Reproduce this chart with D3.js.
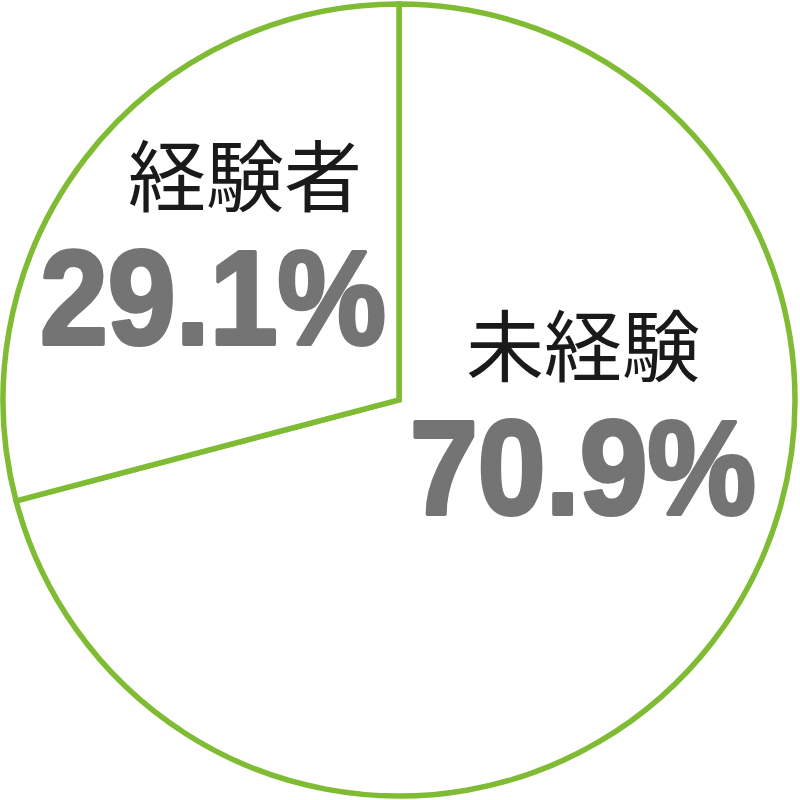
<!DOCTYPE html>
<html>
<head>
<meta charset="utf-8">
<script src="https://cdn.jsdelivr.net/npm/d3@7"></script>
<style>
  html, body { margin: 0; padding: 0; background: #fff; }
  svg { display: block; }
  .name { font-family: "Noto Sans CJK JP", sans-serif; font-size: 78px; fill: #1a1a1a; text-anchor: middle; }
  .pct { font-family: "Liberation Sans Narrow", "Liberation Sans", sans-serif; font-weight: bold; font-size: 134px;
         fill: #747474; stroke: #747474; stroke-width: 4; stroke-linejoin: round; text-anchor: middle; }
</style>
</head>
<body>
<svg width="800" height="800"></svg>
<script>
const categories = ['未経験', '経験者'];
const values = [70.9, 29.1];
const pctLabels = ['70.9%', '29.1%'];

const width = 800;
const height = 800;
const cx = 399;
const cy = 400;
const R = 396;
const GREEN = '#7fbc34';

// label anchors per slice
const labelPos = [
    { nameX: 583, nameY: 376, pctX: 583, pctY: 514 },
    { nameX: 245, nameY: 206, pctX: 213, pctY: 344 }
];

const svg = d3.select('svg');
const g = svg.append('g').attr('transform', `translate(${cx},${cy})`);

const pie = d3.pie().sort(null).startAngle(0).endAngle(2 * Math.PI);
const arc = d3.arc().innerRadius(0).outerRadius(R);

g.selectAll('path.slice')
    .data(pie(values))
    .enter()
    .append('path')
    .classed('slice', true)
    .attr('d', arc)
    .attr('fill', '#fff')
    .attr('stroke', GREEN)
    .attr('stroke-width', 5.5)
    .attr('stroke-linejoin', 'miter');

categories.forEach((c, i) => {
    svg.append('text')
        .classed('name', true)
        .attr('x', labelPos[i].nameX)
        .attr('y', labelPos[i].nameY)
        .text(c);

    svg.append('text')
        .classed('pct', true)
        .attr('x', labelPos[i].pctX)
        .attr('y', labelPos[i].pctY)
        .attr('textLength', 346)
        .attr('lengthAdjust', 'spacingAndGlyphs')
        .text(pctLabels[i]);
});
</script>
</body>
</html>
